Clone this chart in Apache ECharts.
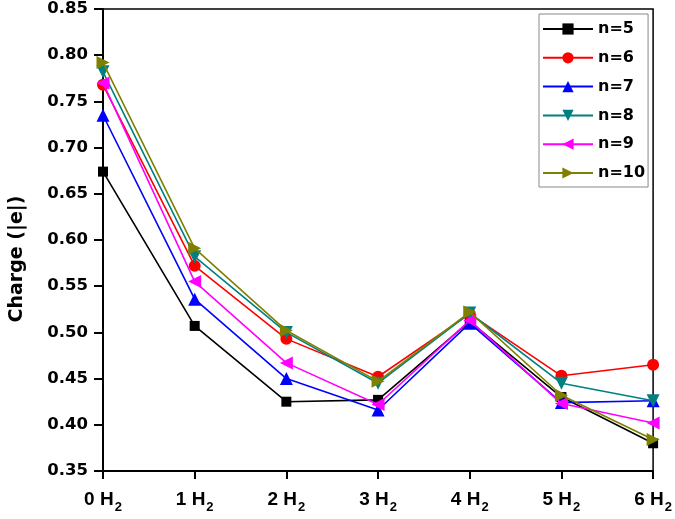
<!DOCTYPE html>
<html><head><meta charset="utf-8">
<script src="https://cdn.jsdelivr.net/npm/echarts@6/dist/echarts.min.js"></script>
<style>html,body{margin:0;padding:0;background:#fff}#c{width:675px;height:519px}</style>
</head><body><div id="c"></div>
<script>
const categories = ['0', '1', '2', '3', '4', '5', '6'];
const seriesNames = ['n=5', 'n=6', 'n=7', 'n=8', 'n=9', 'n=10'];
const n5  = [0.674, 0.507, 0.425, 0.427, 0.512, 0.430, 0.380];
const n6  = [0.768, 0.572, 0.493, 0.452, 0.520, 0.453, 0.465];
const n7  = [0.735, 0.536, 0.450, 0.416, 0.510, 0.424, 0.426];
const n8  = [0.782, 0.582, 0.500, 0.445, 0.521, 0.445, 0.426];
const n9  = [0.770, 0.555, 0.467, 0.422, 0.513, 0.423, 0.402];
const n10 = [0.792, 0.591, 0.502, 0.447, 0.522, 0.432, 0.384];
const yTicks = { min: 0.35, max: 0.85, step: 0.05 };

const values = [n5, n6, n7, n8, n9, n10];
const colors = ['#000000', '#ff0000', '#0000ff', '#008080', '#ff00ff', '#808000'];
const symbols = ['rect', 'circle', 'triangle', 'triangle', 'triangle', 'triangle'];
const rotates = [0, 0, 0, 180, 90, -90];
const sizes = [10, 12, 13, 13, 13, 13];
const FONT = 'Liberation Sans, Arial, sans-serif';
const WIDE = 'DejaVu Sans, sans-serif';

const chart = echarts.init(document.getElementById('c'));
chart.setOption({
  backgroundColor: '#fff',
  animation: false,
  grid: { left: 86, right: 17, top: 9, bottom: 48, show: true, borderColor: '#000', borderWidth: 1.5 },
  legend: {
    orient: 'vertical', left: 539, top: 14,
    itemWidth: 50, itemHeight: 14, itemGap: 12.8,
    borderColor: '#888', borderWidth: 1, padding: [7, 3, 6, 3],
    textStyle: { fontFamily: WIDE, fontWeight: 'bold', fontSize: 16, lineHeight: 14, color: '#000' },
    data: seriesNames
  },
  xAxis: {
    type: 'category', data: categories, boundaryGap: false,
    axisLine: { lineStyle: { color: '#000', width: 2 } },
    axisTick: { alignWithLabel: true, length: 8, lineStyle: { width: 2, color: '#000' } },
    axisLabel: {
      margin: 14,
      formatter: v => '{a|' + v + ' H}{b|2}',
      rich: {
        a: { fontFamily: FONT, fontWeight: 'bold', fontSize: 19, color: '#000' },
        b: { fontFamily: FONT, fontWeight: 'bold', fontSize: 13, color: '#000', padding: [16, 0, 0, 1] }
      }
    },
    splitLine: { show: false }
  },
  yAxis: {
    type: 'value', min: yTicks.min, max: yTicks.max, interval: yTicks.step,
    name: 'Charge (|e|)', nameLocation: 'middle', nameGap: 76, nameRotate: 90,
    nameTextStyle: { fontFamily: WIDE, fontWeight: 'bold', fontSize: 19, color: '#000', padding: [0, 38, 0, 0] },
    axisLine: { show: true, lineStyle: { color: '#000', width: 2 } },
    axisTick: { show: true, length: 9, lineStyle: { width: 2, color: '#000' } },
    axisLabel: { margin: 15, formatter: v => v.toFixed(2), fontFamily: WIDE, fontWeight: 'bold', fontSize: 16.5, color: '#000' },
    splitLine: { show: false }
  },
  series: values.map((d, i) => ({
    name: seriesNames[i], type: 'line', data: d,
    symbol: symbols[i], symbolSize: sizes[i], symbolRotate: rotates[i], showAllSymbol: true,
    lineStyle: { color: colors[i], width: 1.6 },
    itemStyle: { color: colors[i], borderWidth: 0 },
    z: 2 + i
  }))
});
</script></body></html>
